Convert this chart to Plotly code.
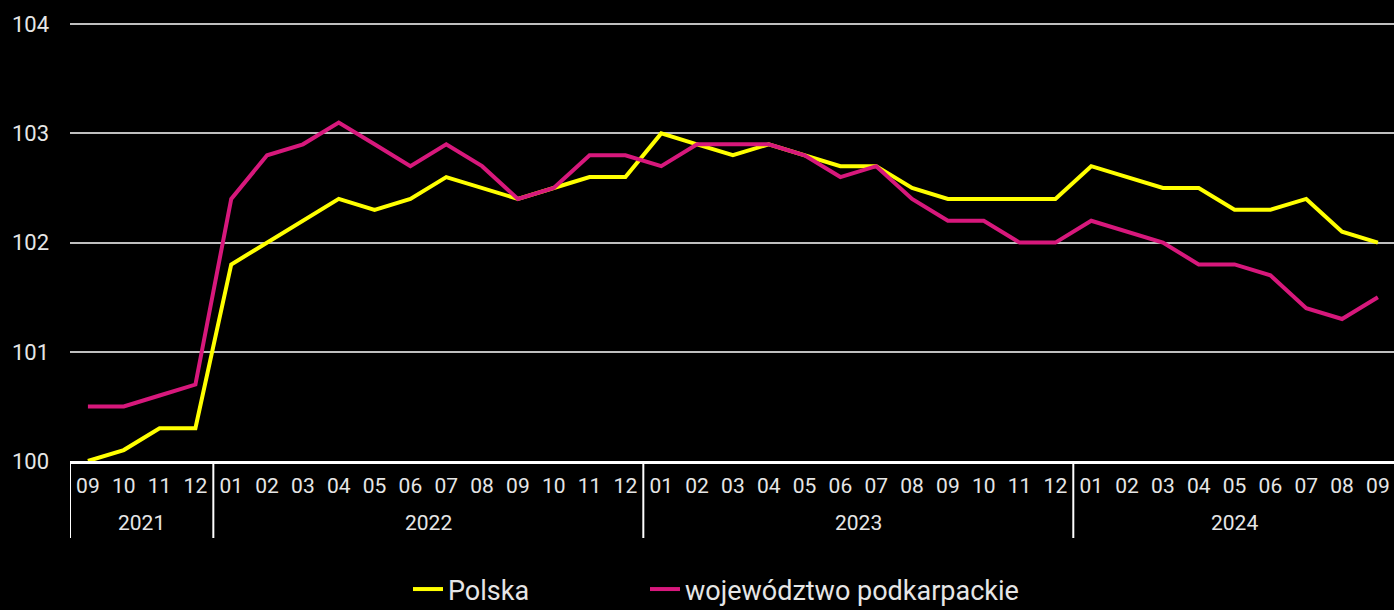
import plotly.graph_objects as go

months = ["09", "10", "11", "12",
          "01", "02", "03", "04", "05", "06", "07", "08", "09", "10", "11", "12",
          "01", "02", "03", "04", "05", "06", "07", "08", "09", "10", "11", "12",
          "01", "02", "03", "04", "05", "06", "07", "08", "09"]
years = ["2021"] * 4 + ["2022"] * 12 + ["2023"] * 12 + ["2024"] * 9

polska = [100.0, 100.1, 100.3, 100.3,
          101.8, 102.0, 102.2, 102.4, 102.3, 102.4, 102.6, 102.5, 102.4, 102.5, 102.6, 102.6,
          103.0, 102.9, 102.8, 102.9, 102.8, 102.7, 102.7, 102.5, 102.4, 102.4, 102.4, 102.4,
          102.7, 102.6, 102.5, 102.5, 102.3, 102.3, 102.4, 102.1, 102.0]
podkarpackie = [100.5, 100.5, 100.6, 100.7,
                102.4, 102.8, 102.9, 103.1, 102.9, 102.7, 102.9, 102.7, 102.4, 102.5, 102.8, 102.8,
                102.7, 102.9, 102.9, 102.9, 102.8, 102.6, 102.7, 102.4, 102.2, 102.2, 102.0, 102.0,
                102.2, 102.1, 102.0, 101.8, 101.8, 101.7, 101.4, 101.3, 101.5]

series_names = ["Polska", "województwo podkarpackie"]
y_ticks = [100, 101, 102, 103, 104]

FONT = "Roboto"
TXT = "#e6e6e6"
x = list(range(len(months)))

PLOT_TOP, PLOT_BOTTOM, PLOT_LEFT, W, H = 22, 461, 70, 1394, 610
PH = PLOT_BOTTOM - PLOT_TOP
PW = W - PLOT_LEFT


def py(pixel_y):
    return (PLOT_BOTTOM - pixel_y) / PH


def px(pixel_x):
    return (pixel_x - PLOT_LEFT) / PW


fig = go.Figure()
fig.add_trace(go.Scatter(x=x, y=polska, mode="lines", name=series_names[0],
                         line=dict(color="#ffff00", width=4), legend="legend"))
fig.add_trace(go.Scatter(x=x, y=podkarpackie, mode="lines", name=series_names[1],
                         line=dict(color="#d7187c", width=4), legend="legend2"))

# year group separators and labels
groups = []
for i, yv in enumerate(years):
    if not groups or groups[-1][0] != yv:
        groups.append([yv, i, i])
    else:
        groups[-1][2] = i

for g in groups:
    fig.add_shape(type="line", xref="x", yref="paper", x0=g[1] - 0.5, x1=g[1] - 0.5,
                  y0=0, y1=py(538), line=dict(color="#ffffff", width=2))
    fig.add_annotation(x=(g[1] + g[2]) / 2, y=py(523), xref="x", yref="paper",
                       text=g[0], showarrow=False, yanchor="middle",
                       font=dict(family=FONT, size=21, color=TXT))

legend_common = dict(orientation="h", xanchor="left", y=py(614), yanchor="bottom",
                     font=dict(family=FONT, size=27, color=TXT), bgcolor="rgba(0,0,0,0)")

fig.update_layout(
    width=W, height=H,
    paper_bgcolor="#000000", plot_bgcolor="#000000",
    margin=dict(l=PLOT_LEFT, r=0, t=PLOT_TOP, b=H - PLOT_BOTTOM, pad=0, autoexpand=False),
    font=dict(family=FONT, color=TXT, size=21),
    showlegend=True,
    legend=dict(x=px(408), **legend_common),
    legend2=dict(x=px(645), **legend_common),
    xaxis=dict(range=[-0.5, len(months) - 0.55], tickmode="array", tickvals=x, ticktext=months,
               showgrid=False, zeroline=False, showline=True, linecolor="#ffffff", linewidth=2.5,
               ticks="outside", ticklen=0, ticklabelstandoff=4, ticklabeloverflow="allow",
               tickfont=dict(family=FONT, size=21, color=TXT)),
    yaxis=dict(range=[100, 104.02], tickvals=y_ticks, showgrid=True, gridcolor="#bfbfbf", gridwidth=2,
               zeroline=False, showline=False, ticks="", ticklabelstandoff=20,
               tickfont=dict(family=FONT, size=22, color=TXT)),
)

fig.write_html("out.html", config={"displayModeBar": False},
               post_script="document.body.style.margin='0';document.body.style.overflow='hidden';"
                           "document.body.style.background='#000';")
